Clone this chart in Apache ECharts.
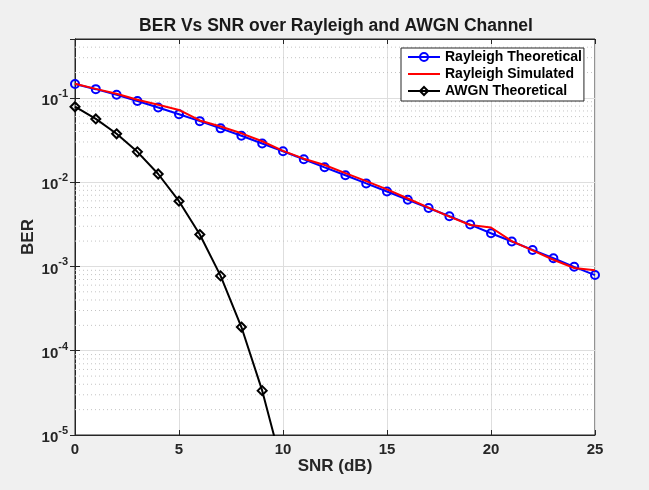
<!DOCTYPE html>
<html>
<head>
<meta charset="utf-8">
<script src="https://cdn.jsdelivr.net/npm/echarts@6/dist/echarts.min.js"></script>
<style>
  html, body { margin: 0; padding: 0; background: #f0f0f0; }
  #main { width: 649px; height: 490px; }
</style>
</head>
<body>
<div id="main"></div>
<script>
// SNR points in dB
var snr = [0, 1, 2, 3, 4, 5, 6, 7, 8, 9, 10, 11, 12, 13, 14, 15, 16, 17, 18, 19, 20, 21, 22, 23, 24, 25];
var rayleighTheory = [0.146, 0.127, 0.109, 0.092, 0.077, 0.064, 0.053, 0.0435, 0.0355, 0.0288,
  0.0233, 0.0187, 0.0150, 0.0121, 0.00967, 0.00774, 0.00619, 0.00494, 0.00394, 0.00314,
  0.00248, 0.00198, 0.00157, 0.00125, 0.00099, 0.00079];
var rayleighSim = [0.147, 0.128, 0.112, 0.095, 0.083, 0.072, 0.054, 0.0457, 0.038, 0.0306,
  0.0235, 0.0190, 0.0160, 0.0128, 0.0103, 0.0082, 0.0064, 0.0050, 0.0039, 0.0031,
  0.0029, 0.0020, 0.00155, 0.0012, 0.00096, 0.00090];
var awgnSnr = [0, 1, 2, 3, 4, 5, 6, 7, 8, 9, 10];
var awgnTheory = [0.0786, 0.0563, 0.0375, 0.0229, 0.0125, 0.00595, 0.00239, 0.000773, 0.000191, 0.0000336, 0.00000387];

var font = 'Liberation Sans, Arial, Helvetica, sans-serif';
var xMin = 0, xMax = 25;
var yMin = 1e-5, yMax = 0.5;

// dotted minor grid at 2..9 x 10^k, drawn as plain series on the axes
var minorSeries = [];
for (var e = -5; e <= -1; e++) {
  for (var m = 2; m <= 9; m++) {
    var v = m * Math.pow(10, e);
    if (v >= yMax) continue;
    minorSeries.push({
      type: 'line',
      name: 'grid' + minorSeries.length,
      data: [[xMin, v], [xMax, v]],
      symbol: 'none',
      silent: true,
      z: 1,
      lineStyle: { color: '#c4c4c4', type: [1, 3], width: 1 }
    });
  }
}

function pairs(xs, ys) {
  return xs.map(function (x, i) { return [x, ys[i]]; });
}

function supLabel(value) {
  var e = Math.round(Math.log10(value));
  if (Math.abs(value - Math.pow(10, e)) / value > 1e-6) return '';
  return '{b|10}{s|' + e + '}';
}

var dom = document.getElementById('main');
var myChart = echarts.init(dom, null, { renderer: 'canvas' });

var option = {
  backgroundColor: '#f0f0f0',
  animation: false,
  textStyle: { fontFamily: font },
  title: {
    text: 'BER Vs SNR over Rayleigh and AWGN Channel',
    left: 331,
    textAlign: 'center',
    top: 12,
    textStyle: { fontFamily: font, fontSize: 17.5, fontWeight: 'bold', color: '#1a1a1a' }
  },
  legend: {
    orient: 'vertical',
    left: 401,
    top: 48,
    data: [
      { name: 'Rayleigh Theoretical' },
      { name: 'Rayleigh Simulated', itemStyle: { opacity: 0 } },
      { name: 'AWGN Theoretical' }
    ],
    backgroundColor: '#fff',
    borderColor: '#262626',
    borderWidth: 1,
    borderRadius: 0,
    padding: [2, 2, 3, 6],
    itemGap: 3,
    itemWidth: 32,
    itemHeight: 10,
    textStyle: { fontFamily: font, fontSize: 14, fontWeight: 'bold', color: '#000' }
  },
  grid: {
    left: 75, right: 54, top: 39, bottom: 55,
    show: true,
    backgroundColor: '#fff',
    borderColor: '#262626',
    borderWidth: 1
  },
  xAxis: [{
    type: 'value',
    min: xMin, max: xMax, interval: 5,
    name: 'SNR (dB)',
    nameLocation: 'middle',
    nameGap: 23,
    nameMoveOverlap: false,
    nameTextStyle: { fontFamily: font, fontSize: 17, fontWeight: 'bold', color: '#262626' },
    axisLine: { show: true, lineStyle: { color: '#262626' } },
    axisTick: { inside: true, length: 5, lineStyle: { color: '#262626' } },
    axisLabel: { fontFamily: font, fontSize: 15, fontWeight: 'bold', color: '#262626', margin: 7 },
    splitLine: { show: true, lineStyle: { color: '#dedede', width: 1 } }
  }, {
    type: 'value',
    position: 'top',
    min: xMin, max: xMax, interval: 5,
    axisLine: { show: true, lineStyle: { color: '#262626' } },
    axisTick: { inside: true, length: 5, lineStyle: { color: '#262626' } },
    axisLabel: { show: false },
    splitLine: { show: false }
  }],
  yAxis: [{
    type: 'log',
    logBase: 10,
    min: yMin, max: yMax,
    name: 'BER',
    nameLocation: 'middle',
    nameGap: 38,
    nameMoveOverlap: false,
    nameTextStyle: { fontFamily: font, fontSize: 17, fontWeight: 'bold', color: '#262626' },
    axisLine: { show: true, lineStyle: { color: '#262626' } },
    axisTick: { inside: true, length: 5, lineStyle: { color: '#262626' } },
    axisLabel: {
      formatter: supLabel,
      margin: 7,
      rich: {
        b: { fontFamily: font, fontSize: 15, fontWeight: 'bold', color: '#262626', padding: [6, 0, 0, 0] },
        s: { fontFamily: font, fontSize: 11, fontWeight: 'bold', color: '#262626', padding: [0, 0, 8, 0] }
      }
    },
    splitLine: { show: true, lineStyle: { color: '#dedede', width: 1 } }
  }, {
    type: 'log',
    logBase: 10,
    position: 'right',
    min: yMin, max: yMax,
    axisLine: { show: true, lineStyle: { color: '#262626' } },
    axisTick: { inside: true, length: 5, lineStyle: { color: '#262626' } },
    axisLabel: { show: false },
    splitLine: { show: false }
  }],
  series: minorSeries.concat([
    {
      name: 'Rayleigh Theoretical',
      type: 'line',
      data: pairs(snr, rayleighTheory),
      symbol: 'circle',
      symbolSize: 8,
      lineStyle: { color: '#0000ff', width: 2 },
      itemStyle: { color: 'rgba(255,255,255,0)', borderColor: '#0000ff', borderWidth: 2 },
      z: 3
    },
    {
      name: 'Rayleigh Simulated',
      type: 'line',
      data: pairs(snr, rayleighSim),
      showSymbol: false,
      symbol: 'none',
      lineStyle: { color: '#ff0000', width: 2 },
      itemStyle: { color: '#ff0000' },
      z: 4
    },
    {
      name: 'AWGN Theoretical',
      type: 'line',
      data: pairs(awgnSnr, awgnTheory),
      clip: true,
      symbol: 'diamond',
      symbolSize: 9,
      lineStyle: { color: '#000', width: 2 },
      itemStyle: { color: 'rgba(255,255,255,0)', borderColor: '#000', borderWidth: 2 },
      z: 3
    }
  ])
};

if (option && typeof option === 'object') {
  myChart.setOption(option);
}
window.addEventListener('resize', myChart.resize);
</script>
</body>
</html>
